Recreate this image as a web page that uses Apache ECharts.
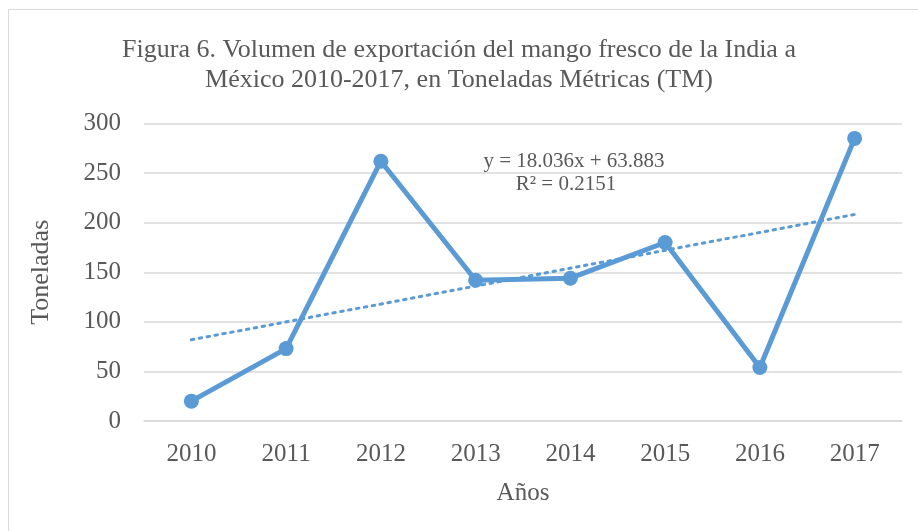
<!DOCTYPE html>
<html>
<head>
<meta charset="utf-8">
<script src="https://cdn.jsdelivr.net/npm/echarts@6/dist/echarts.min.js"></script>
<style>
  html, body { margin: 0; padding: 0; background: #fff; }
  #chart { width: 918px; height: 531px; }
</style>
</head>
<body>
<div id="chart"></div>
<script>
// Values
const years = ['2010', '2011', '2012', '2013', '2014', '2015', '2016', '2017'];
const tons = [20, 73, 262, 142, 144, 180, 54, 285];
// Linear trendline ends (first and last year)
const trendEnds = [[0, 81.9], [7, 208.2]];
const trendText = ['y = 18.036x + 63.883', 'R² = 0.2151'];

const FONT = '"Liberation Serif", "Times New Roman", serif';
const GREY = '#595959';
const BLUE = '#5B9BD5';

const chart = echarts.init(document.getElementById('chart'));

chart.setOption({
    animation: false,
    textStyle: { fontFamily: FONT },
    title: {
        text: 'Figura 6. Volumen de exportación del mango fresco de la India a\nMéxico 2010-2017, en Toneladas Métricas (TM)',
        left: 'center',
        top: 30,
        textStyle: { fontFamily: FONT, fontSize: 26, fontWeight: 'normal', color: GREY, lineHeight: 30 },
    },
    grid: { left: 144, right: 16, top: 123.5, bottom: 110 },
    xAxis: {
        type: 'category',
        data: years,
        name: 'Años',
        nameLocation: 'middle',
        nameGap: 60,
        nameTextStyle: { fontFamily: FONT, fontSize: 25, color: GREY },
        axisLine: { lineStyle: { color: '#d9d9d9', width: 1.5 } },
        axisTick: { show: false },
        axisLabel: { fontFamily: FONT, fontSize: 25, color: GREY, margin: 21 },
    },
    yAxis: {
        type: 'value',
        min: 0,
        max: 300,
        interval: 50,
        name: 'Toneladas',
        nameLocation: 'middle',
        nameGap: 90,
        nameTextStyle: { fontFamily: FONT, fontSize: 26, color: GREY },
        axisLine: { show: false },
        axisTick: { show: false },
        axisLabel: { fontFamily: FONT, fontSize: 25, color: GREY, margin: 23 },
        splitLine: { lineStyle: { color: '#d9d9d9', width: 1.5 } },
    },
    series: [
        {
            type: 'line',
            data: trendEnds,
            symbol: 'none',
            lineStyle: { color: BLUE, width: 3, type: [2.5, 5.5], cap: 'round' },
            z: 2,
        },
        {
            type: 'line',
            data: tons,
            symbol: 'circle',
            symbolSize: 15,
            itemStyle: { color: BLUE },
            lineStyle: { color: BLUE, width: 5 },
            z: 3,
        },
    ],
    graphic: [
        {
            type: 'rect',
            shape: { x: 8.5, y: 9.5, width: 1000, height: 1000 },
            style: { fill: 'none', stroke: '#d9d9d9', lineWidth: 1 },
            silent: true,
        },
        {
            type: 'text',
            x: 574, y: 161,
            style: { text: trendText[0], font: '21px ' + FONT, fill: GREY, align: 'center', verticalAlign: 'middle' },
        },
        {
            type: 'text',
            x: 566, y: 184,
            style: { text: trendText[1], font: '21px ' + FONT, fill: GREY, align: 'center', verticalAlign: 'middle' },
        },
    ],
});
</script>
</body>
</html>
